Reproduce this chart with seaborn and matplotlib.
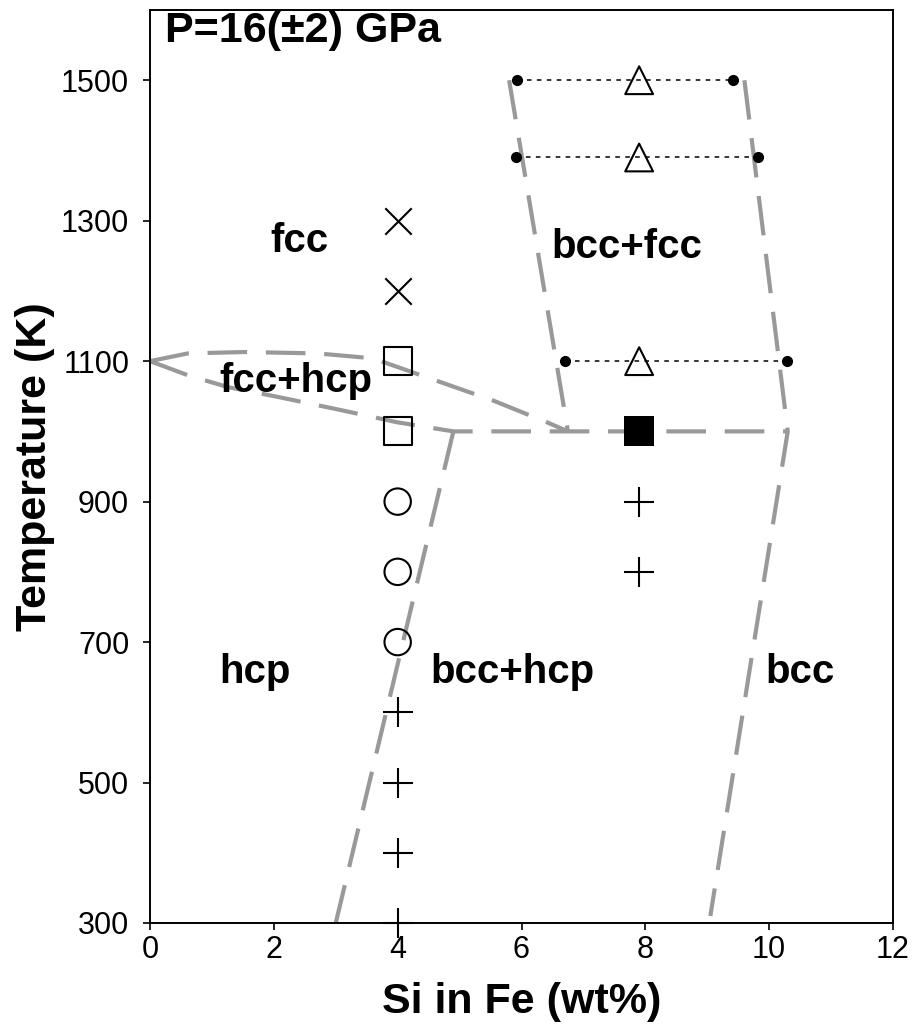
import numpy as np
import pandas as pd
import seaborn as sns
import matplotlib.pyplot as plt

# phase boundaries (Si wt%, T in K)
loop_upper_si = [0, 0.61, 1.53, 2.71, 3.60, 4.47, 5.54, 6.41, 6.75]
loop_upper_T = [1100, 1111, 1113, 1111, 1104, 1077, 1044, 1013, 1000]
loop_lower_si = [0, 0.61, 1.26, 2.07, 3.10, 3.99, 4.9, 10.3]
loop_lower_T = [1100, 1080, 1063, 1049, 1030, 1013, 1000, 1000]
hcp_edge_si = [4.9, 3.0]
hcp_edge_T = [1000, 300]
fcc_edge_si = [5.8, 6.75]
fcc_edge_T = [1500, 1000]
bcc_edge_si = [9.6, 10.3, 9.05]
bcc_edge_T = [1500, 1000, 310]

# tie lines between coexisting compositions
tie_T = [1500, 1390, 1100]
tie_left = [5.93, 5.91, 6.70]
tie_right = [9.42, 9.82, 10.29]

# observations
obs_fcc = pd.DataFrame({"si": [4, 4], "T": [1300, 1200]})
obs_fcc_hcp = pd.DataFrame({"si": [4, 4], "T": [1100, 1000]})
obs_circle = pd.DataFrame({"si": [4, 4, 4], "T": [900, 800, 700]})
obs_plus = pd.DataFrame({"si": [4, 4, 4, 4, 7.9, 7.9], "T": [600, 500, 400, 300, 900, 800]})
obs_tri = pd.DataFrame({"si": [7.9, 7.9, 7.9], "T": [1500, 1390, 1100]})
obs_filled = pd.DataFrame({"si": [7.9], "T": [1000]})

sns.set_style("ticks")
plt.rcParams['font.family'] = ['Liberation Sans', 'DejaVu Sans']
plt.rcParams['text.color'] = 'black'
plt.rcParams['axes.labelcolor'] = 'black'

fig = plt.figure(figsize=(9.17, 10.3), dpi=100)
ax = fig.add_axes([150/917, 1 - 923/1030, 743/917, 913/1030])

gray = "#999999"
dash = (0, (9.5, 4.5))
for xs, ys in [(loop_upper_si, loop_upper_T), (loop_lower_si, loop_lower_T),
               (hcp_edge_si, hcp_edge_T), (fcc_edge_si, fcc_edge_T),
               (bcc_edge_si, bcc_edge_T)]:
    ax.plot(xs, ys, color=gray, lw=3, linestyle=dash, zorder=2)

for t, l, r in zip(tie_T, tie_left, tie_right):
    ax.plot([l, r], [t, t], color="black", lw=1.1, linestyle=(0, (3, 3.5)),
            marker="o", markersize=7, zorder=3)

sns.scatterplot(data=obs_fcc, x="si", y="T", marker="x", s=19**2, color="black",
                linewidth=1.5, ax=ax, zorder=4)
sns.scatterplot(data=obs_fcc_hcp, x="si", y="T", marker="s", s=20**2,
                facecolor="none", edgecolor="black", linewidth=1.5, ax=ax, zorder=4)
sns.scatterplot(data=obs_circle, x="si", y="T", marker="o", s=19**2,
                facecolor="none", edgecolor="black", linewidth=1.5, ax=ax, zorder=4)
sns.scatterplot(data=obs_plus, x="si", y="T", marker="+", s=21**2, color="black",
                linewidth=1.5, ax=ax, zorder=4)
ax.collections[-1].set_clip_on(False)
sns.scatterplot(data=obs_tri, x="si", y="T", marker="^", s=20**2,
                facecolor="none", edgecolor="black", linewidth=1.5, ax=ax, zorder=4)
sns.scatterplot(data=obs_filled, x="si", y="T", marker="s", s=22**2,
                color="black", linewidth=0, ax=ax, zorder=4)

lab = dict(fontsize=29, fontweight="bold", ha="center", va="baseline")
ax.text(2.42, 1255, "fcc", **lab)
ax.text(7.7, 1247, "bcc+fcc", **lab)
ax.text(2.36, 1056, "fcc+hcp", **lab)
ax.text(1.7, 642, "hcp", **lab)
ax.text(5.86, 642, "bcc+hcp", **lab)
ax.text(10.5, 642, "bcc", **lab)
ax.text(0.24, 1555, "P=16(±2) GPa", fontsize=31, fontweight="bold",
        ha="left", va="baseline")

ax.set_xlim(0, 12)
ax.set_ylim(300, 1600)
ax.set_xticks(np.arange(0, 13, 2))
ax.set_yticks(np.arange(300, 1501, 200))
ax.tick_params(direction="out", length=5, width=1.2, labelsize=22, colors="black")
ax.tick_params(axis="y", pad=10)
ax.tick_params(axis="x", pad=4)
for sp in ax.spines.values():
    sp.set_visible(True)
    sp.set_color("black")
    sp.set_linewidth(1.4)

ax.set_xlabel("Si in Fe (wt%)", fontsize=31, fontweight="bold")
ax.set_ylabel("Temperature (K)", fontsize=31, fontweight="bold")
ax.xaxis.set_label_coords(0.5, -0.065)
ax.yaxis.set_label_coords(-0.128, 0.5)

fig.savefig("out.png", dpi=100)
